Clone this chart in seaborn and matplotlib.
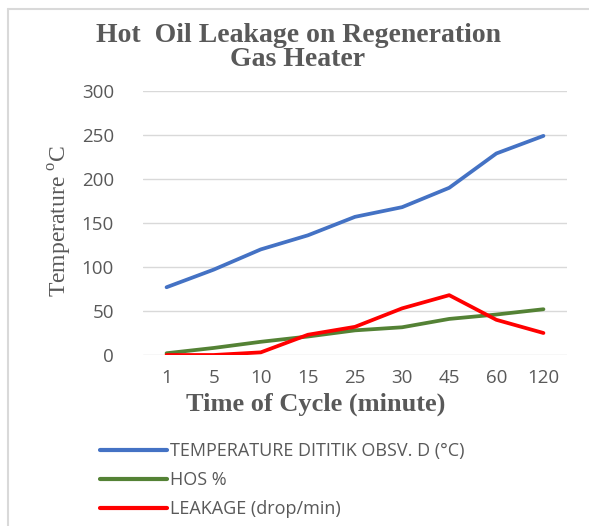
import pandas as pd
import seaborn as sns
from matplotlib import pyplot as plt
from matplotlib.lines import Line2D

# data
cycles = ['1', '5', '10', '15', '25', '30', '45', '60', '120']
temperature = [77, 97, 120, 136, 157, 168, 190, 229, 249]
hos = [2, 8, 15, 21, 28, 31.5, 41, 46, 52]
leakage = [0, 0, 3, 23, 32, 53, 68, 40, 25]

series_names = ['TEMPERATURE DITITIK OBSV. D (°C)', 'HOS %', 'LEAKAGE (drop/min)']
colors = ['#4472C4', '#548235', '#FF0000']

df = pd.DataFrame({'Cycle': cycles,
                   series_names[0]: temperature,
                   series_names[1]: hos,
                   series_names[2]: leakage})
long = df.melt(id_vars='Cycle', var_name='Series', value_name='Value')

sns.set_style("white")
grey = '#595959'

fig = plt.figure(figsize=(5.89, 5.26), dpi=100)
ax = fig.add_axes([143/589, 1 - 355/526, (567 - 143)/589, (355 - 91)/526])

sns.lineplot(data=long, x='Cycle', y='Value', hue='Series', palette=colors,
             linewidth=2.7, sort=False, legend=False, ax=ax)

ax.set_xlim(-0.5, 8.5)
ax.set_ylim(0, 300)
ax.set_yticks(range(0, 301, 50))
ax.yaxis.grid(True, color='#D9D9D9', linewidth=1)
ax.set_axisbelow(True)
sns.despine(ax=ax, left=True, bottom=True)
ax.tick_params(length=0, labelsize=13.5, labelcolor=grey, pad=10)
ax.tick_params(axis='y', pad=21)
for lab in ax.get_xticklabels() + ax.get_yticklabels():
    lab.set_family('Open Sans')

ax.set_xlabel('Time of Cycle (minute)', family='Liberation Serif', weight='bold',
              fontsize=19, color=grey)
ax.xaxis.set_label_coords(316/589, 1 - 393/526, transform=fig.transFigure)
ax.set_ylabel('Temperature $^{\\mathregular{o}}$C', family='Liberation Serif',
              fontsize=17, color=grey)
ax.yaxis.set_label_coords(74/589, 1 - 221/526, transform=fig.transFigure)

fig.text(0.506, 1 - 35/526, 'Hot  Oil Leakage on Regeneration', ha='center', va='center',
         family='Liberation Serif', weight='bold', fontsize=20, color=grey)
fig.text(0.506, 1 - 60/526, 'Gas Heater', ha='center', va='center',
         family='Liberation Serif', weight='bold', fontsize=20, color=grey)

handles = [Line2D([], [], color=c, linewidth=3) for c in colors]
leg = fig.legend(handles, series_names, loc='upper left',
                 bbox_to_anchor=(84/589, 1 - 426/526), frameon=False,
                 handlelength=3.7, handletextpad=0.15, labelspacing=0.6,
                 prop={'family': 'Open Sans', 'size': 13})
for t in leg.get_texts():
    t.set_color(grey)

# thin grey frame on top and left like the source image
fig.add_artist(Line2D([8/589, 8/589], [0, 1 - 9/526], color='#D9D9D9', linewidth=1.5,
                      transform=fig.transFigure))
fig.add_artist(Line2D([8/589, 1], [1 - 9/526, 1 - 9/526], color='#D9D9D9', linewidth=1.5,
                      transform=fig.transFigure))

fig.savefig('out.png', dpi=100)
